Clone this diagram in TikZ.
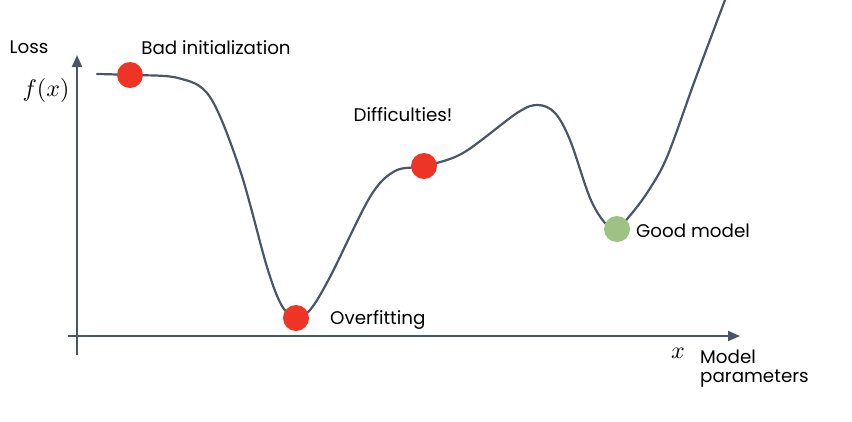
\documentclass[tikz,border=0pt]{standalone}
\usepackage{fontspec}
\setmainfont{Poppins}
\usetikzlibrary{arrows.meta}
\definecolor{axisc}{HTML}{4A5568}
\definecolor{dotred}{HTML}{EE3424}
\definecolor{dotgreen}{HTML}{9DC284}
\tikzset{
  axis/.style={draw=axisc, line width=2pt, -{Triangle[length=12pt,width=10pt]}},
  curve/.style={draw=axisc, line width=2.2pt},
  reddot/.style={circle, fill=dotred, inner sep=0pt, minimum size=26pt},
  greendot/.style={circle, fill=dotgreen, inner sep=0pt, minimum size=26pt},
  lab/.style={font=\fontsize{18.3}{22}\selectfont, inner sep=0pt, text=black},
  mathlab/.style={inner sep=0pt}
}
\begin{document}
\begin{tikzpicture}[x=1pt,y=-1pt]
\useasboundingbox (0,0) rectangle (852,421);
% axes
\coordinate (ybot) at (77,355);
\coordinate (ytop) at (77,55);
\coordinate (xl) at (68,336);
\coordinate (xr) at (740,336);
\draw[axis] (ybot) -- (ytop);
\draw[axis] (xl) -- (xr);
% curve
\draw[curve, line cap=round] plot[smooth, tension=0.55] coordinates {
 (97,74) (130,75) (178,78) (210,97) (240,170) (267,267) (282,306) (296,317)
 (310,310) (330,277) (370,197) (395,171) (424,166) (463,153) (517,113)
 (538,105) (555,113) (570,140) (590,198) (605,223) (617,229) (628,218)
 (647,193) (667,157) (695,80) (725,0)};
% dots
\node[reddot] (bad) at (130,75) {};
\node[reddot] (over) at (296,318) {};
\node[reddot] (diff) at (424,166) {};
\node[greendot] (good) at (617,229) {};
% labels
\node[lab] (loss) at (29,47) {Loss};
\node[mathlab] (fx) at (46,90) {\scalebox{2.4}{$f(x)$}};
\node[lab] (badl) at (216,48) {Bad initialization};
\node[lab] (diffl) at (403,115) {Difficulties!};
\node[lab, anchor=west] (overl) at (330,320) {Overfitting};
\node[lab, anchor=west] (goodl) at (636,231) {Good model};
\node[mathlab] (xlab) at (678,353) {\scalebox{2.4}{$x$}};
\node[lab, anchor=west] (mp1) at (700,357) {Model};
\node[lab, anchor=west] (mp2) at (700,379) {parameters};
\end{tikzpicture}
\end{document}
